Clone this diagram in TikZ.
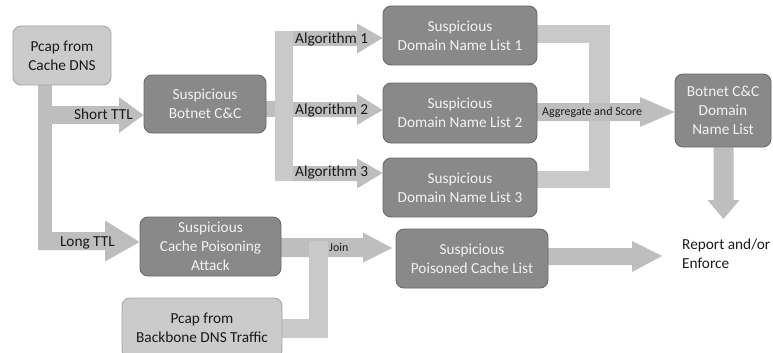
\documentclass[tikz,border=0pt]{standalone}
\usepackage{fontspec}
\setmainfont{Carlito}
\usetikzlibrary{calc}
\definecolor{boxdark}{HTML}{898989}
\definecolor{boxdarkline}{HTML}{6A6A6A}
\definecolor{boxlight}{HTML}{CBCBCB}
\definecolor{boxlightline}{HTML}{A6A6A6}
\definecolor{arrowfill}{HTML}{BEBEBE}
\definecolor{barfill}{HTML}{C9C9C9}
\definecolor{inktext}{HTML}{1A1A1A}

\pgfdeclarelayer{background}
\pgfsetlayers{background,main}

% right-pointing block arrow:
% #1 shaft start x, #2 head base x, #3 tip point, #4 centre y, #5 half shaft, #6 half head
\newcommand\rblockarrow[6]{%
  \fill[arrowshape] (#1,#4-#5) -- (#2,#4-#5) -- (#2,#4-#6) -- (#3)
    -- (#2,#4+#6) -- (#2,#4+#5) -- (#1,#4+#5) -- cycle;}

\begin{document}
\begin{tikzpicture}[x=1pt,y=-1pt,
  box/.style={rounded corners=8pt, line width=0.9pt, align=center, inner sep=2pt,
    font=\fontsize{15.3}{19}\selectfont},
  darkbox/.style={box, fill=boxdark, draw=boxdarkline, text=white!95!black},
  lightbox/.style={box, fill=boxlight, draw=boxlightline, text=inktext},
  lbl/.style={font=\fontsize{15.3}{19}\selectfont, inner sep=0pt, anchor=west, text=inktext},
  smalllbl/.style={font=\fontsize{12}{14}\selectfont, inner sep=0pt, anchor=west, text=inktext},
  arrowshape/.style={fill=arrowfill, draw=none},
  barshape/.style={fill=barfill, draw=none}]

\clip (0,0) rectangle (773,353);

% ---- process boxes ----
\node[lightbox, minimum width=98pt, minimum height=59pt] (pcapA) at (62,55.5)
  {Pcap from\\Cache DNS};
\node[darkbox, minimum width=122pt, minimum height=58pt] (botnet) at (205,104)
  {Suspicious\\Botnet C\&C};
\node[darkbox, minimum width=154pt, minimum height=59pt] (list1) at (460,35.5)
  {Suspicious\\Domain Name List 1};
\node[darkbox, minimum width=154pt, minimum height=60pt] (list2) at (460,113)
  {Suspicious\\Domain Name List 2};
\node[darkbox, minimum width=154pt, minimum height=59pt] (list3) at (460,187.5)
  {Suspicious\\Domain Name List 3};
\node[darkbox, minimum width=96pt, minimum height=73pt] (final) at (723,110.5)
  {Botnet C\&C\\Domain\\Name List};
\node[darkbox, minimum width=141pt, minimum height=59pt] (poison) at (210.5,246.5)
  {Suspicious\\Cache Poisoning\\Attack};
\node[lightbox, minimum width=160pt, minimum height=60pt] (backbone) at (202,328)
  {Pcap from\\Backbone DNS Traffic};
\node[darkbox, minimum width=152pt, minimum height=59pt] (cachelist) at (472,258.5)
  {Suspicious\\Poisoned Cache List};
\node[lbl, align=left] (report) at (682,254) {Report and/or\\Enforce};

% ---- block connectors, behind the boxes ----
\begin{pgfonlayer}{background}
  % TTL split from the cache DNS capture
  \fill[arrowshape] (pcapA.south -| 38,0) rectangle (52,250);
  \rblockarrow{52}{119}{botnet.west |- 0,115}{115}{9}{18}
  \rblockarrow{38}{105}{poison.west |- 0,242}{241}{9}{20.5}

  % fan-out to the three detection algorithms
  \fill[arrowshape] (botnet.east |- 0,101) rectangle (276,117);
  \fill[barshape] (275,31) rectangle (293,181);
  \rblockarrow{293}{357}{list1.west |- 0,38}{38.5}{7.5}{15}
  \rblockarrow{293}{357}{list2.west |- 0,110}{109.5}{7.5}{15.5}
  \rblockarrow{293}{357}{list3.west |- 0,173}{173.5}{7.5}{15}

  % aggregation bracket
  \fill[barshape] (list1.east |- 0,25) rectangle (610,43);
  \fill[barshape] (589,25) rectangle (610,188);
  \fill[barshape] (list3.east |- 0,171) rectangle (610,188);
  \rblockarrow{537}{640}{final.west |- 0,112}{112}{9}{15}

  % final list down to reporting
  \fill[arrowshape] (713.5,0 |- final.south) -- (733.5,0 |- final.south)
    -- (733.5,200) -- (739.5,200) -- (723.5,219) -- (707.5,200) -- (713.5,200) -- cycle;

  % join of poisoning candidates with backbone traffic
  \rblockarrow{280}{363}{392,248}{247.5}{9.5}{15}
  \fill[barshape] (309,240.5) rectangle (328,338);
  \fill[barshape] (backbone.east |- 0,319) rectangle (309,338);

  % poisoned cache list to reporting
  \rblockarrow{548}{632}{662,256}{256.5}{8.5}{15.5}
\end{pgfonlayer}

% ---- connector labels ----
\node[lbl, anchor=east] (lshort) at (133,114) {Short TTL};
\node[lbl, anchor=east] (llong) at (115,243) {Long TTL};
\node[lbl] (alg1) at (295,39.5) {Algorithm 1};
\node[lbl] (alg2) at (295,110.5) {Algorithm 2};
\node[lbl] (alg3) at (295,173) {Algorithm 3};
\node[smalllbl] (lagg) at (542,112) {Aggregate and Score};
\node[smalllbl] (ljoin) at (329,247) {Join};
\end{tikzpicture}
\end{document}
